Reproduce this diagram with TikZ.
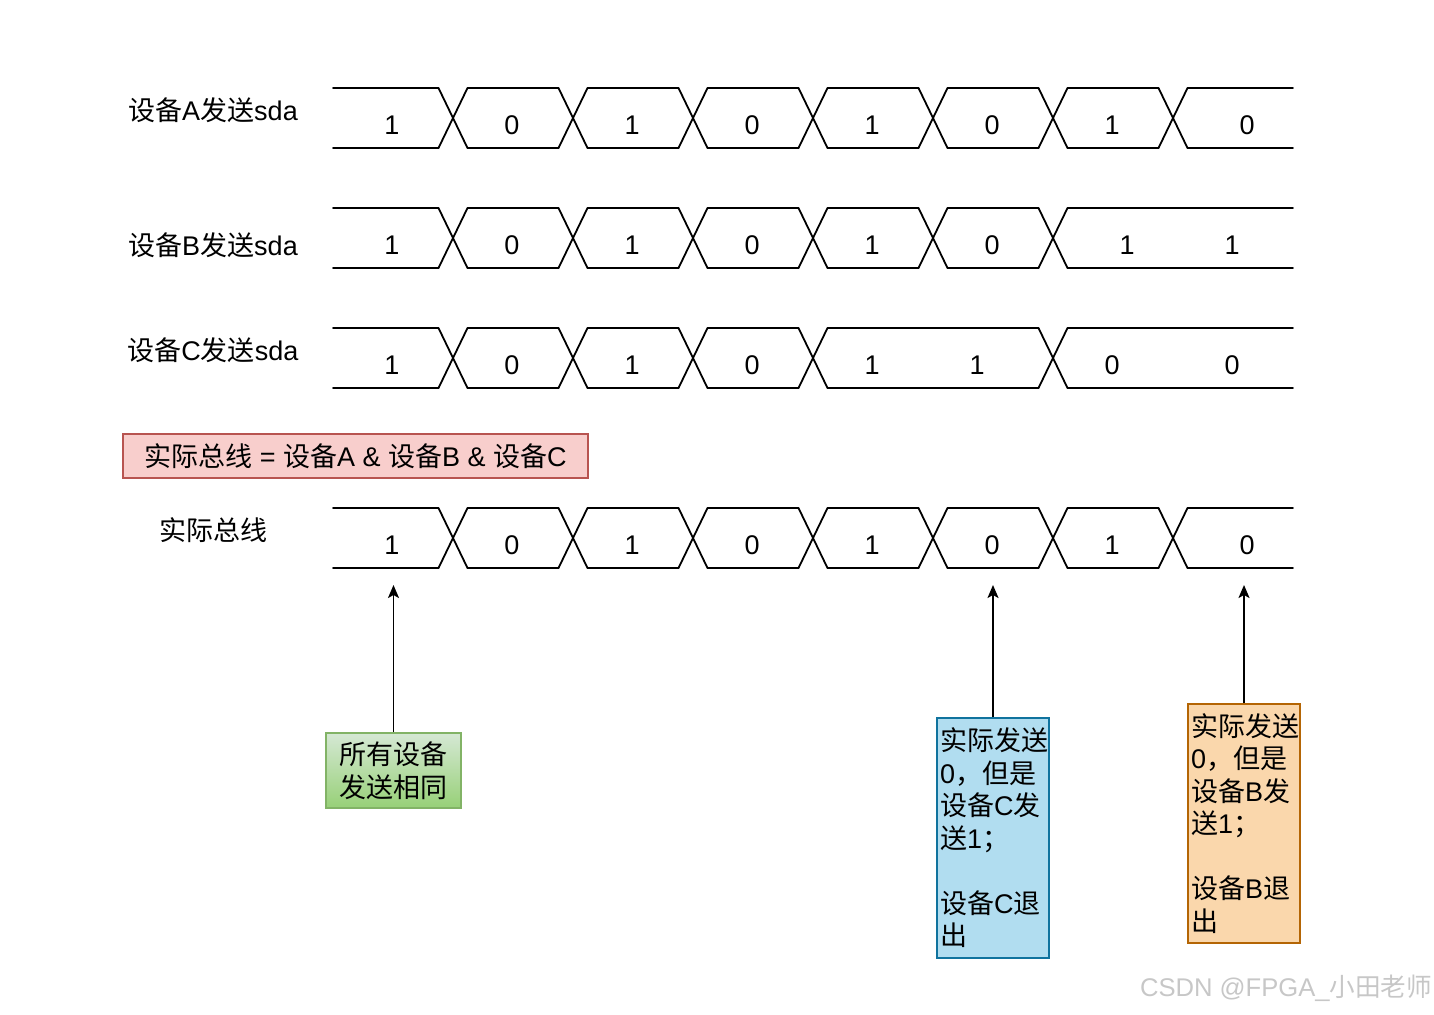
\documentclass[tikz,border=0pt]{standalone}
\usepackage{fontspec}
\setmainfont{Liberation Sans}
\newfontfamily\cjk{Noto Sans CJK SC}
\usetikzlibrary{arrows.meta}
\newcommand\zh[1]{{\cjk #1}}
\definecolor{redfill}{HTML}{F8CECC}
\definecolor{redline}{HTML}{B85450}
\definecolor{greentop}{HTML}{D5E8D4}
\definecolor{greenbot}{HTML}{97D077}
\definecolor{greenline}{HTML}{82B366}
\definecolor{bluefill}{HTML}{B1DDF0}
\definecolor{blueline}{HTML}{10739E}
\definecolor{orangefill}{HTML}{FAD7AC}
\definecolor{orangeline}{HTML}{B46504}
\newcommand\wavesig[3]{% #1 top y, #2 bottom y, #3 crossings
  \foreach \c [remember=\c as \p (initially 318.5)] in {#3,1307.5} {
    \draw[wave] (\p+14.5,#1) -- (\c-14.5,#1);
    \draw[wave] (\p+14.5,#2) -- (\c-14.5,#2);
    \ifdim\c pt<1300pt
      \draw[wave] (\c-14.5,#1) -- (\c+14.5,#2);
      \draw[wave] (\c-14.5,#2) -- (\c+14.5,#1);
    \fi
  }%
}
\begin{document}
\begin{tikzpicture}[x=0.5pt,y=-0.5pt,
  font=\fontsize{13.5}{16.25}\selectfont,
  wave/.style={line width=0.9pt,black,line cap=round},
  val/.style={inner sep=0pt},
  lab/.style={inner sep=0pt},
  notebox/.style={line width=0.8pt,inner xsep=1.5pt,inner ysep=0pt,align=left,text width=53pt},
  arr/.style={line width=0.9pt,-{Stealth[length=6.5pt,width=5.5pt,inset=1.5pt]}}]
\useasboundingbox (0,0) rectangle (1434,1014);

% waveforms
\wavesig{88}{148}{453,573,693,813,933,1053,1173}
\wavesig{208}{268}{453,573,693,813,933,1053}
\wavesig{328}{388}{453,573,693,813,1053}
\wavesig{508}{568}{453,573,693,813,933,1053,1173}

% values
\foreach \x/\v [count=\i] in {392/1,512/0,632/1,752/0,872/1,992/0,1112/1,1247/0}
  \node[val] (a\i) at (\x,125) {\v};
\foreach \x/\v [count=\i] in {392/1,512/0,632/1,752/0,872/1,992/0,1127/1,1232/1}
  \node[val] (b\i) at (\x,245) {\v};
\foreach \x/\v [count=\i] in {392/1,512/0,632/1,752/0,872/1,977/1,1112/0,1232/0}
  \node[val] (c\i) at (\x,365) {\v};
\foreach \x/\v [count=\i] in {392/1,512/0,632/1,752/0,872/1,992/0,1112/1,1247/0}
  \node[val] (s\i) at (\x,545) {\v};

% row labels
\node[lab] (la) at (213,110) {\zh{设备}A\zh{发送}sda};
\node[lab] (lb) at (213,245) {\zh{设备}B\zh{发送}sda};
\node[lab] (lc) at (213,350) {\zh{设备}C\zh{发送}sda};
\node[lab] (ls) at (213,530) {\zh{实际总线}};

% formula box
\node[draw=redline,fill=redfill,line width=0.8pt,minimum width=232.5pt,minimum height=22pt,inner sep=0pt]
  (formula) at (355.5,456) {\zh{实际总线} = \zh{设备}A \& \zh{设备}B \& \zh{设备}C};

% note boxes
\node[draw=greenline,top color=greentop,bottom color=greenbot,line width=0.8pt,
  minimum width=67.5pt,minimum height=37.5pt,inner sep=0pt,align=center]
  (g) at (393.5,770.5) {\zh{所有设备}\\\zh{发送相同}};
\node[notebox,draw=blueline,fill=bluefill,minimum height=120pt]
  (bl) at (993,838) {\zh{实际发送}\\0\zh{，但是}\\\zh{设备}C\zh{发}\\\zh{送}1\zh{；}\\[16.25pt]\zh{设备}C\zh{退}\\\zh{出}};
\node[notebox,draw=orangeline,fill=orangefill,minimum height=119.5pt]
  (or) at (1244,823.5) {\zh{实际发送}\\0\zh{，但是}\\\zh{设备}B\zh{发}\\\zh{送}1\zh{；}\\[16.25pt]\zh{设备}B\zh{退}\\\zh{出}};

% arrows
\coordinate (t1) at (393.5,585);
\coordinate (t2) at (993,585);
\coordinate (t3) at (1244,585);
\draw[arr] (g.north) -- (t1);
\draw[arr] (bl.north) -- (t2);
\draw[arr] (or.north) -- (t3);

% watermark
\node[lab,text=black!22,font=\fontsize{12.8}{15}\selectfont] (wm) at (1286,988) {CSDN @FPGA\_\zh{小田老师}};
\end{tikzpicture}
\end{document}
